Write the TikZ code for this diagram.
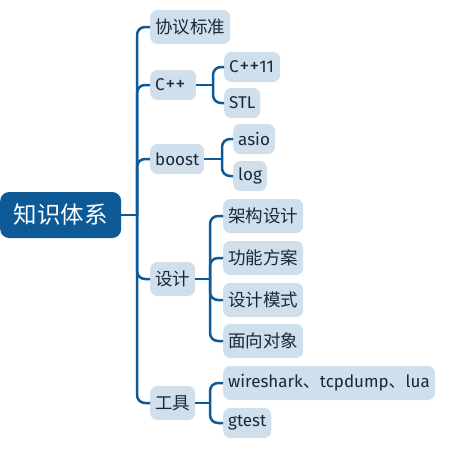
\documentclass[tikz,border=0pt]{standalone}
\usepackage{fontspec}
\setmainfont{Fira Sans}
\newfontfamily\cjk{Noto Sans CJK SC}
\definecolor{mainblue}{HTML}{0E5A97}
\definecolor{boxfill}{HTML}{D0DFEC}
\definecolor{txt}{HTML}{1A2838}
\newcommand{\plusplus}{\kern0.8pt\scalebox{1.15}{+}\kern0.4pt\scalebox{1.15}{+}}
\begin{document}
\begin{tikzpicture}[x=1pt,y=-1pt,
  rootnode/.style={fill=mainblue, rounded corners=9pt, text=white, font=\cjk\fontsize{23.5}{27}\selectfont, minimum width=121pt, minimum height=46pt, inner sep=0pt, anchor=west},
  topic/.style={fill=boxfill, rounded corners=7pt, text=txt, font=\fontsize{17}{20}\selectfont, inner xsep=5pt, inner ysep=0pt, minimum height=30pt, anchor=west},
  cjktopic/.style={topic, font=\cjk\fontsize{17.5}{20}\selectfont, minimum height=34pt},
  link/.style={draw=mainblue, line width=2.5pt},
  elbow/.style={link, rounded corners=8pt}]
\useasboundingbox (0,0) rectangle (458,448);
% nodes
\node[rootnode] (root) at (0,215) {知识体系};
\node[cjktopic] (xy) at (150,27) {协议标准};
\node[topic, text width=36pt, align=left] (cpp) at (150,85) {C\plusplus};
\node[topic] (boost) at (150,159) {boost};
\node[cjktopic] (sj) at (150,279) {设计};
\node[cjktopic] (gj) at (150,403) {工具};
\node[topic, text width=46pt, align=left] (c11) at (224,67) {C\plusplus11};
\node[topic] (stl) at (224,103) {STL};
\node[topic] (asio) at (233,139) {asio};
\node[topic] (log) at (233,176) {log};
\node[cjktopic] (jg) at (223,216) {架构设计};
\node[cjktopic] (gn) at (223,258) {功能方案};
\node[cjktopic] (ms) at (223,300) {设计模式};
\node[cjktopic] (mx) at (223,341) {面向对象};
\node[topic, minimum height=34pt] (ws) at (223,383) {wireshark{\cjk 、}tcpdump{\cjk 、}lua};
\node[topic] (gt) at (223,423) {gtest};
% junctions
\coordinate (jr) at (137,215);
\coordinate (jc) at (213,85);
\coordinate (jb) at (222,159);
\coordinate (js) at (210,279);
\coordinate (jt) at (210,403);
% connectors
\draw[link] (root.east) -- (jr);
\foreach \c in {xy,cpp,boost,sj,gj} \draw[elbow] (jr) |- (\c.west);
\draw[link] (cpp.east) -- (jc);
\foreach \c in {c11,stl} \draw[elbow] (jc) |- (\c.west);
\draw[link] (boost.east) -- (jb);
\foreach \c in {asio,log} \draw[elbow] (jb) |- (\c.west);
\draw[link] (sj.east) -- (js);
\foreach \c in {jg,gn,ms,mx} \draw[elbow] (js) |- (\c.west);
\draw[link] (gj.east) -- (jt);
\foreach \c in {ws,gt} \draw[elbow] (jt) |- (\c.west);
\end{tikzpicture}
\end{document}
